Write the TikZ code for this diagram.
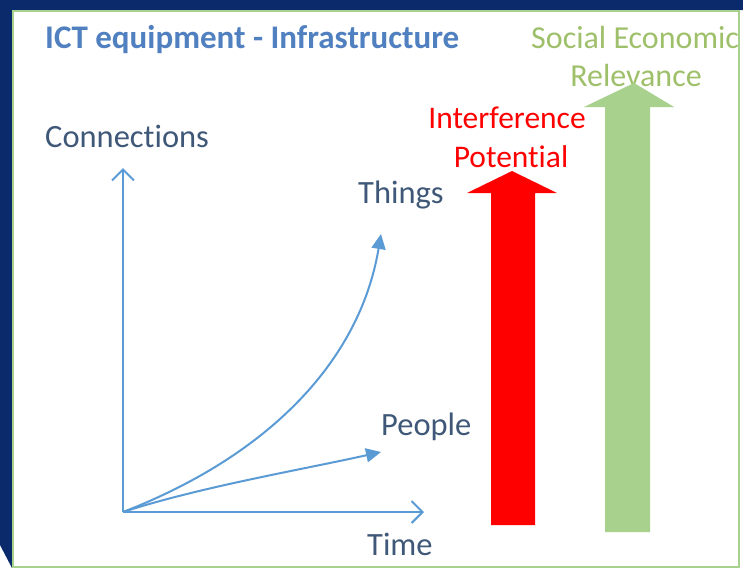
\documentclass[tikz,border=0pt]{standalone}
\usepackage{fontspec}
\setmainfont[Ligatures=CommonOff]{Carlito}
\usetikzlibrary{arrows.meta}
\definecolor{navy}{HTML}{0B2A6B}
\definecolor{boxgreen}{HTML}{A9D18E}
\definecolor{txtgreen}{HTML}{9FC06A}
\definecolor{axisblue}{HTML}{5B9BD5}
\definecolor{titleblue}{HTML}{5080C0}
\definecolor{lblblue}{HTML}{3F5878}
\tikzset{
  axisline/.style={draw=axisblue, line width=2pt, -{Straight Barb[length=11pt,width=22pt]}},
  growline/.style={draw=axisblue, line width=2pt, -{Triangle[length=15pt,width=14pt]}},
  lbl/.style={inner sep=0pt, font=\fontsize{32.5}{36}\selectfont, text=lblblue},
  ttl/.style={inner sep=0pt, font=\fontsize{33}{36}\selectfont\bfseries, text=titleblue},
  redtxt/.style={inner sep=0pt, font=\fontsize{31.5}{36}\selectfont, text=red},
  grntxt/.style={inner sep=0pt, font=\fontsize{32}{36}\selectfont, text=txtgreen},
}
\begin{document}
\begin{tikzpicture}[x=1pt,y=-1pt]
\useasboundingbox (0,0) rectangle (743,574);
\fill[white] (0,0) rectangle (743,574);
% navy frame
\fill[navy] (0,0) -- (743,0) -- (743,10) -- (12,10) -- (12,568) -- (0,545) -- cycle;
% box
\draw[boxgreen, line width=2pt, fill=white] (13,11) rectangle (739,567);
% title
\node[ttl, anchor=base west] (title) at (45,48) {ICT equipment - Infrastructure};
\begin{scope}
\clip (13,11) rectangle (738,567);
\node[grntxt, anchor=base west] (soc) at (531,48) {Social Economic};
\end{scope}
\node[grntxt, anchor=base] (rel) at (636,86) {Relevance};
\node[redtxt, anchor=base] (intf) at (507,128) {Interference};
\node[redtxt, anchor=base] (pot) at (511,167) {Potential};
\node[lbl, anchor=base west] (conn) at (45,147) {Connections};
\node[lbl, anchor=base west] (things) at (358,203) {Things};
\node[lbl, anchor=base west] (people) at (381,435) {People};
\node[lbl, anchor=base west] (time) at (367,555) {Time};
% block arrows
\fill[red] (491,525) -- (535,525) -- (535,193) -- (557,193) -- (512,171) -- (467,193) -- (491,193) -- cycle;
\fill[boxgreen] (605,532) -- (650,532) -- (650,107) -- (674,107) -- (634,83) -- (584,107) -- (605,107) -- cycle;
% axes
\coordinate (o) at (123,512);
\coordinate (ytop) at (123,168);
\coordinate (xend) at (424,512);
\coordinate (tend) at (381,234);
\coordinate (pend) at (381,452);
\draw[axisline] (o) -- (ytop);
\draw[axisline] (o) -- (xend);
\draw[growline] (o) .. controls (270,455) and (360,360) .. (tend);
\draw[growline] (o) .. controls (200,487) and (300,470) .. (pend);
\end{tikzpicture}
\end{document}
